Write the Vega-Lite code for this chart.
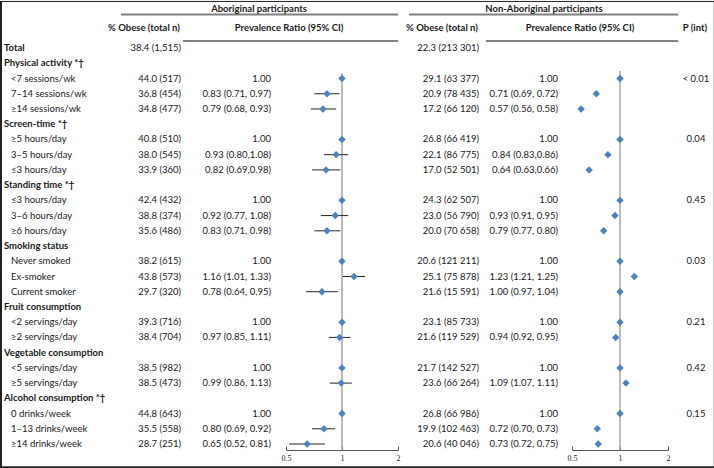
{
  "$schema": "https://vega.github.io/schema/vega-lite/v6.json",
  "padding": 0,
  "spacing": 0,
  "bounds": "flush",
  "background": "white",
  "config": {
    "view": {"stroke": null},
    "concat": {"spacing": 0},
    "text": {"font": "Lato", "fontSize": 9.5, "color": "#1a1a1a", "baseline": "middle"}
  },
  "data": {"values": [
    {"row": 0, "label": "Total", "kind": "total", "ab_n": "38.4 (1,515)", "ab_pr": "", "ab_est": null, "ab_lo": null, "ab_hi": null, "non_n": "22.3 (213 301)", "non_pr": "", "non_est": null, "non_lo": null, "non_hi": null, "p": ""},
    {"row": 1, "label": "Physical activity *†", "kind": "category", "ab_n": "", "ab_pr": "", "ab_est": null, "ab_lo": null, "ab_hi": null, "non_n": "", "non_pr": "", "non_est": null, "non_lo": null, "non_hi": null, "p": ""},
    {"row": 2, "label": "<7 sessions/wk", "kind": "item", "ab_n": "44.0 (517)", "ab_pr": "1.00", "ab_est": 1.0, "ab_lo": null, "ab_hi": null, "non_n": "29.1 (63 377)", "non_pr": "1.00", "non_est": 1.0, "non_lo": null, "non_hi": null, "p": "< 0.01"},
    {"row": 3, "label": "7–14 sessions/wk", "kind": "item", "ab_n": "36.8 (454)", "ab_pr": "0.83 (0.71, 0.97)", "ab_est": 0.83, "ab_lo": 0.71, "ab_hi": 0.97, "non_n": "20.9 (78 435)", "non_pr": "0.71 (0.69, 0.72)", "non_est": 0.71, "non_lo": 0.69, "non_hi": 0.72, "p": ""},
    {"row": 4, "label": "≥14 sessions/wk", "kind": "item", "ab_n": "34.8 (477)", "ab_pr": "0.79 (0.68, 0.93)", "ab_est": 0.79, "ab_lo": 0.68, "ab_hi": 0.93, "non_n": "17.2 (66 120)", "non_pr": "0.57 (0.56, 0.58)", "non_est": 0.57, "non_lo": 0.56, "non_hi": 0.58, "p": ""},
    {"row": 5, "label": "Screen-time *†", "kind": "category", "ab_n": "", "ab_pr": "", "ab_est": null, "ab_lo": null, "ab_hi": null, "non_n": "", "non_pr": "", "non_est": null, "non_lo": null, "non_hi": null, "p": ""},
    {"row": 6, "label": "≥5 hours/day", "kind": "item", "ab_n": "40.8 (510)", "ab_pr": "1.00", "ab_est": 1.0, "ab_lo": null, "ab_hi": null, "non_n": "26.8 (66 419)", "non_pr": "1.00", "non_est": 1.0, "non_lo": null, "non_hi": null, "p": "0.04"},
    {"row": 7, "label": "3–5 hours/day", "kind": "item", "ab_n": "38.0 (545)", "ab_pr": "0.93 (0.80,1.08)", "ab_est": 0.93, "ab_lo": 0.80, "ab_hi": 1.08, "non_n": "22.1 (86 775)", "non_pr": "0.84 (0.83,0.86)", "non_est": 0.84, "non_lo": 0.83, "non_hi": 0.86, "p": ""},
    {"row": 8, "label": "≤3 hours/day", "kind": "item", "ab_n": "33.9 (360)", "ab_pr": "0.82 (0.69,0.98)", "ab_est": 0.82, "ab_lo": 0.69, "ab_hi": 0.98, "non_n": "17.0 (52 501)", "non_pr": "0.64 (0.63,0.66)", "non_est": 0.64, "non_lo": 0.63, "non_hi": 0.66, "p": ""},
    {"row": 9, "label": "Standing time *†", "kind": "category", "ab_n": "", "ab_pr": "", "ab_est": null, "ab_lo": null, "ab_hi": null, "non_n": "", "non_pr": "", "non_est": null, "non_lo": null, "non_hi": null, "p": ""},
    {"row": 10, "label": "≤3 hours/day", "kind": "item", "ab_n": "42.4 (432)", "ab_pr": "1.00", "ab_est": 1.0, "ab_lo": null, "ab_hi": null, "non_n": "24.3 (62 507)", "non_pr": "1.00", "non_est": 1.0, "non_lo": null, "non_hi": null, "p": "0.45"},
    {"row": 11, "label": "3–6 hours/day", "kind": "item", "ab_n": "38.8 (374)", "ab_pr": "0.92 (0.77, 1.08)", "ab_est": 0.92, "ab_lo": 0.77, "ab_hi": 1.08, "non_n": "23.0 (56 790)", "non_pr": "0.93 (0.91, 0.95)", "non_est": 0.93, "non_lo": 0.91, "non_hi": 0.95, "p": ""},
    {"row": 12, "label": "≥6 hours/day", "kind": "item", "ab_n": "35.6 (486)", "ab_pr": "0.83 (0.71, 0.98)", "ab_est": 0.83, "ab_lo": 0.71, "ab_hi": 0.98, "non_n": "20.0 (70 658)", "non_pr": "0.79 (0.77, 0.80)", "non_est": 0.79, "non_lo": 0.77, "non_hi": 0.80, "p": ""},
    {"row": 13, "label": "Smoking status", "kind": "category", "ab_n": "", "ab_pr": "", "ab_est": null, "ab_lo": null, "ab_hi": null, "non_n": "", "non_pr": "", "non_est": null, "non_lo": null, "non_hi": null, "p": ""},
    {"row": 14, "label": "Never smoked", "kind": "item", "ab_n": "38.2 (615)", "ab_pr": "1.00", "ab_est": 1.0, "ab_lo": null, "ab_hi": null, "non_n": "20.6 (121 211)", "non_pr": "1.00", "non_est": 1.0, "non_lo": null, "non_hi": null, "p": "0.03"},
    {"row": 15, "label": "Ex-smoker", "kind": "item", "ab_n": "43.8 (573)", "ab_pr": "1.16 (1.01, 1.33)", "ab_est": 1.16, "ab_lo": 1.01, "ab_hi": 1.33, "non_n": "25.1 (75 878)", "non_pr": "1.23 (1.21, 1.25)", "non_est": 1.23, "non_lo": 1.21, "non_hi": 1.25, "p": ""},
    {"row": 16, "label": "Current smoker", "kind": "item", "ab_n": "29.7 (320)", "ab_pr": "0.78 (0.64, 0.95)", "ab_est": 0.78, "ab_lo": 0.64, "ab_hi": 0.95, "non_n": "21.6 (15 591)", "non_pr": "1.00 (0.97, 1.04)", "non_est": 1.0, "non_lo": 0.97, "non_hi": 1.04, "p": ""},
    {"row": 17, "label": "Fruit consumption", "kind": "category", "ab_n": "", "ab_pr": "", "ab_est": null, "ab_lo": null, "ab_hi": null, "non_n": "", "non_pr": "", "non_est": null, "non_lo": null, "non_hi": null, "p": ""},
    {"row": 18, "label": "<2 servings/day", "kind": "item", "ab_n": "39.3 (716)", "ab_pr": "1.00", "ab_est": 1.0, "ab_lo": null, "ab_hi": null, "non_n": "23.1 (85 733)", "non_pr": "1.00", "non_est": 1.0, "non_lo": null, "non_hi": null, "p": "0.21"},
    {"row": 19, "label": "≥2 servings/day", "kind": "item", "ab_n": "38.4 (704)", "ab_pr": "0.97 (0.85, 1.11)", "ab_est": 0.97, "ab_lo": 0.85, "ab_hi": 1.11, "non_n": "21.6 (119 529)", "non_pr": "0.94 (0.92, 0.95)", "non_est": 0.94, "non_lo": 0.92, "non_hi": 0.95, "p": ""},
    {"row": 20, "label": "Vegetable consumption", "kind": "category", "ab_n": "", "ab_pr": "", "ab_est": null, "ab_lo": null, "ab_hi": null, "non_n": "", "non_pr": "", "non_est": null, "non_lo": null, "non_hi": null, "p": ""},
    {"row": 21, "label": "<5 servings/day", "kind": "item", "ab_n": "38.5 (982)", "ab_pr": "1.00", "ab_est": 1.0, "ab_lo": null, "ab_hi": null, "non_n": "21.7 (142 527)", "non_pr": "1.00", "non_est": 1.0, "non_lo": null, "non_hi": null, "p": "0.42"},
    {"row": 22, "label": "≥5 servings/day", "kind": "item", "ab_n": "38.5 (473)", "ab_pr": "0.99 (0.86, 1.13)", "ab_est": 0.99, "ab_lo": 0.86, "ab_hi": 1.13, "non_n": "23.6 (66 264)", "non_pr": "1.09 (1.07, 1.11)", "non_est": 1.09, "non_lo": 1.07, "non_hi": 1.11, "p": ""},
    {"row": 23, "label": "Alcohol consumption *†", "kind": "category", "ab_n": "", "ab_pr": "", "ab_est": null, "ab_lo": null, "ab_hi": null, "non_n": "", "non_pr": "", "non_est": null, "non_lo": null, "non_hi": null, "p": ""},
    {"row": 24, "label": "0 drinks/week", "kind": "item", "ab_n": "44.8 (643)", "ab_pr": "1.00", "ab_est": 1.0, "ab_lo": null, "ab_hi": null, "non_n": "26.8 (66 986)", "non_pr": "1.00", "non_est": 1.0, "non_lo": null, "non_hi": null, "p": "0.15"},
    {"row": 25, "label": "1–13 drinks/week", "kind": "item", "ab_n": "35.5 (558)", "ab_pr": "0.80 (0.69, 0.92)", "ab_est": 0.80, "ab_lo": 0.69, "ab_hi": 0.92, "non_n": "19.9 (102 463)", "non_pr": "0.72 (0.70, 0.73)", "non_est": 0.72, "non_lo": 0.70, "non_hi": 0.73, "p": ""},
    {"row": 26, "label": "≥14 drinks/week", "kind": "item", "ab_n": "28.7 (251)", "ab_pr": "0.65 (0.52, 0.81)", "ab_est": 0.65, "ab_lo": 0.52, "ab_hi": 0.81, "non_n": "20.6 (40 046)", "non_pr": "0.73 (0.72, 0.75)", "non_est": 0.73, "non_lo": 0.72, "non_hi": 0.75, "p": ""}
  ]},
  "hconcat": [
    {
      "width": 120, "height": 468,
      "layer": [
        {"data": {"values": [{}]}, "mark": {"type": "rule", "color": "#222", "strokeWidth": 1}, "encoding": {"y": {"datum": -3.06, "type": "quantitative", "scale": {"domain": [-3.09, 27.64], "reverse": true, "nice": false, "zero": false}, "axis": null}}},
        {"data": {"values": [{}]}, "mark": {"type": "rule", "color": "#222", "strokeWidth": 2}, "encoding": {"y": {"datum": 27.52, "type": "quantitative", "scale": {"domain": [-3.09, 27.64], "reverse": true, "nice": false, "zero": false}, "axis": null}}},
        {"data": {"values": [{}]}, "mark": {"type": "rule", "color": "#222", "strokeWidth": 2}, "encoding": {"x": {"datum": 0, "type": "quantitative", "scale": {"domain": [0, 1], "nice": false, "zero": false}, "axis": null}}},
        {"transform": [{"filter": "datum.kind != 'item'"}], "mark": {"type": "text", "align": "left", "fontWeight": "bold"}, "encoding": {"x": {"datum": 0.025, "type": "quantitative", "scale": {"domain": [0, 1], "nice": false, "zero": false}, "axis": null}, "y": {"field": "row", "type": "quantitative", "scale": {"domain": [-3.09, 27.64], "reverse": true, "nice": false, "zero": false}, "axis": null}, "text": {"field": "label"}}},
        {"transform": [{"filter": "datum.kind == 'item'"}], "mark": {"type": "text", "align": "left"}, "encoding": {"x": {"datum": 0.083, "type": "quantitative", "scale": {"domain": [0, 1], "nice": false, "zero": false}, "axis": null}, "y": {"field": "row", "type": "quantitative", "scale": {"domain": [-3.09, 27.64], "reverse": true, "nice": false, "zero": false}, "axis": null}, "text": {"field": "label"}}}
      ]
    },
    {
      "width": 62, "height": 468,
      "layer": [
        {"data": {"values": [{}]}, "mark": {"type": "rule", "color": "#222", "strokeWidth": 1}, "encoding": {"y": {"datum": -3.06, "type": "quantitative", "scale": {"domain": [-3.09, 27.64], "reverse": true, "nice": false, "zero": false}, "axis": null}}},
        {"data": {"values": [{}]}, "mark": {"type": "rule", "color": "#222", "strokeWidth": 2}, "encoding": {"y": {"datum": 27.52, "type": "quantitative", "scale": {"domain": [-3.09, 27.64], "reverse": true, "nice": false, "zero": false}, "axis": null}}},
        {"data": {"values": [{}]}, "mark": {"type": "rule", "color": "#808080", "strokeWidth": 2}, "encoding": {"y": {"datum": -2.2, "type": "quantitative", "scale": {"domain": [-3.09, 27.64], "reverse": true, "nice": false, "zero": false}, "axis": null}}},
        {"data": {"values": [{}]}, "mark": {"type": "text", "align": "center", "fontWeight": "bold", "text": "% Obese (total n)"}, "encoding": {"x": {"datum": 0.371, "type": "quantitative", "scale": {"domain": [0, 1], "nice": false, "zero": false}, "axis": null}, "y": {"datum": -1.31, "type": "quantitative", "scale": {"domain": [-3.09, 27.64], "reverse": true, "nice": false, "zero": false}, "axis": null}}},
        {"transform": [{"filter": "datum.ab_n != ''"}], "mark": {"type": "text", "align": "right"}, "encoding": {"x": {"datum": 0.968, "type": "quantitative", "scale": {"domain": [0, 1], "nice": false, "zero": false}, "axis": null}, "y": {"field": "row", "type": "quantitative", "scale": {"domain": [-3.09, 27.64], "reverse": true, "nice": false, "zero": false}, "axis": null}, "text": {"field": "ab_n"}}}
      ]
    },
    {
      "width": 103, "height": 468,
      "layer": [
        {"data": {"values": [{}]}, "mark": {"type": "rule", "color": "#222", "strokeWidth": 1}, "encoding": {"y": {"datum": -3.06, "type": "quantitative", "scale": {"domain": [-3.09, 27.64], "reverse": true, "nice": false, "zero": false}, "axis": null}}},
        {"data": {"values": [{}]}, "mark": {"type": "rule", "color": "#222", "strokeWidth": 2}, "encoding": {"y": {"datum": 27.52, "type": "quantitative", "scale": {"domain": [-3.09, 27.64], "reverse": true, "nice": false, "zero": false}, "axis": null}}},
        {"data": {"values": [{}]}, "mark": {"type": "rule", "color": "#808080", "strokeWidth": 2}, "encoding": {"y": {"datum": -2.2, "type": "quantitative", "scale": {"domain": [-3.09, 27.64], "reverse": true, "nice": false, "zero": false}, "axis": null}}},
        {"data": {"values": [{}]}, "mark": {"type": "rule", "color": "#808080", "strokeWidth": 2}, "encoding": {"y": {"datum": -0.46, "type": "quantitative", "scale": {"domain": [-3.09, 27.64], "reverse": true, "nice": false, "zero": false}, "axis": null}}},
        {"data": {"values": [{}]}, "mark": {"type": "text", "align": "center", "fontWeight": "bold", "text": "Aboriginal participants"}, "encoding": {"x": {"datum": 0.738, "type": "quantitative", "scale": {"domain": [0, 1], "nice": false, "zero": false}, "axis": null}, "y": {"datum": -2.59, "type": "quantitative", "scale": {"domain": [-3.09, 27.64], "reverse": true, "nice": false, "zero": false}, "axis": null}}},
        {"data": {"values": [{}]}, "mark": {"type": "text", "align": "center", "fontWeight": "bold", "text": "Prevalence Ratio (95% CI)"}, "encoding": {"x": {"datum": 1.03, "type": "quantitative", "scale": {"domain": [0, 1], "nice": false, "zero": false}, "axis": null}, "y": {"datum": -1.31, "type": "quantitative", "scale": {"domain": [-3.09, 27.64], "reverse": true, "nice": false, "zero": false}, "axis": null}}},
        {"transform": [{"filter": "datum.ab_pr != ''"}], "mark": {"type": "text", "align": "right"}, "encoding": {"x": {"datum": 0.854, "type": "quantitative", "scale": {"domain": [0, 1], "nice": false, "zero": false}, "axis": null}, "y": {"field": "row", "type": "quantitative", "scale": {"domain": [-3.09, 27.64], "reverse": true, "nice": false, "zero": false}, "axis": null}, "text": {"field": "ab_pr"}}}
      ]
    },
    {
      "width": 112, "height": 468,
      "layer": [
        {"data": {"values": [{}]}, "mark": {"type": "rule", "color": "#222", "strokeWidth": 1}, "encoding": {"y": {"datum": -3.06, "type": "quantitative", "scale": {"domain": [-3.09, 27.64], "reverse": true, "nice": false, "zero": false}, "axis": null}}},
        {"data": {"values": [{}]}, "mark": {"type": "rule", "color": "#222", "strokeWidth": 2}, "encoding": {"y": {"datum": 27.52, "type": "quantitative", "scale": {"domain": [-3.09, 27.64], "reverse": true, "nice": false, "zero": false}, "axis": null}}},
        {"data": {"values": [{}]}, "mark": {"type": "rule", "color": "#808080", "strokeWidth": 2}, "encoding": {"y": {"datum": -2.2, "type": "quantitative", "scale": {"domain": [-3.09, 27.64], "reverse": true, "nice": false, "zero": false}, "axis": null}}},
        {"data": {"values": [{}]}, "mark": {"type": "rule", "color": "#808080", "strokeWidth": 2}, "encoding": {"y": {"datum": -0.46, "type": "quantitative", "scale": {"domain": [-3.09, 27.64], "reverse": true, "nice": false, "zero": false}, "axis": null}}},
        {"data": {"values": [{}]}, "mark": {"type": "rule", "color": "#a6a6a6", "strokeWidth": 1.5}, "encoding": {"x": {"datum": 1, "type": "quantitative", "scale": {"type": "log", "domain": [0.5, 2], "nice": false}}, "y": {"datum": 1.65, "type": "quantitative", "scale": {"domain": [-3.09, 27.64], "reverse": true, "nice": false, "zero": false}, "axis": null}, "y2": {"datum": 26.4}}},
        {"mark": {"type": "rule", "color": "#262626", "strokeWidth": 1}, "encoding": {"x": {"field": "ab_lo", "type": "quantitative", "scale": {"type": "log", "domain": [0.5, 2], "nice": false}}, "x2": {"field": "ab_hi"}, "y": {"field": "row", "type": "quantitative", "scale": {"domain": [-3.09, 27.64], "reverse": true, "nice": false, "zero": false}, "axis": null}}},
        {"mark": {"type": "point", "shape": "diamond", "filled": true, "size": 55, "color": "#4f81bd", "opacity": 1}, "encoding": {"x": {"field": "ab_est", "type": "quantitative", "scale": {"type": "log", "domain": [0.5, 2], "nice": false}, "axis": {"values": [0.5, 1, 2], "format": "~g", "title": null, "grid": false, "offset": -19, "tickSize": -4, "labelPadding": 8, "labelFont": "Liberation Serif", "labelFontSize": 8, "labelColor": "#222", "domainColor": "#555", "tickColor": "#555", "labelFlush": false, "labelBound": false}}, "y": {"field": "row", "type": "quantitative", "scale": {"domain": [-3.09, 27.64], "reverse": true, "nice": false, "zero": false}, "axis": null}}}
      ]
    },
    {
      "width": 83, "height": 468,
      "layer": [
        {"data": {"values": [{}]}, "mark": {"type": "rule", "color": "#222", "strokeWidth": 1}, "encoding": {"y": {"datum": -3.06, "type": "quantitative", "scale": {"domain": [-3.09, 27.64], "reverse": true, "nice": false, "zero": false}, "axis": null}}},
        {"data": {"values": [{}]}, "mark": {"type": "rule", "color": "#222", "strokeWidth": 2}, "encoding": {"y": {"datum": 27.52, "type": "quantitative", "scale": {"domain": [-3.09, 27.64], "reverse": true, "nice": false, "zero": false}, "axis": null}}},
        {"data": {"values": [{}]}, "mark": {"type": "rule", "color": "#808080", "strokeWidth": 2}, "encoding": {"x": {"datum": 0.133, "type": "quantitative", "scale": {"domain": [0, 1], "nice": false, "zero": false}, "axis": null}, "x2": {"datum": 1}, "y": {"datum": -2.2, "type": "quantitative", "scale": {"domain": [-3.09, 27.64], "reverse": true, "nice": false, "zero": false}, "axis": null}}},
        {"data": {"values": [{}]}, "mark": {"type": "text", "align": "center", "fontWeight": "bold", "text": "% Obese (total n)"}, "encoding": {"x": {"datum": 0.53, "type": "quantitative", "scale": {"domain": [0, 1], "nice": false, "zero": false}, "axis": null}, "y": {"datum": -1.31, "type": "quantitative", "scale": {"domain": [-3.09, 27.64], "reverse": true, "nice": false, "zero": false}, "axis": null}}},
        {"transform": [{"filter": "datum.non_n != ''"}], "mark": {"type": "text", "align": "right"}, "encoding": {"x": {"datum": 0.976, "type": "quantitative", "scale": {"domain": [0, 1], "nice": false, "zero": false}, "axis": null}, "y": {"field": "row", "type": "quantitative", "scale": {"domain": [-3.09, 27.64], "reverse": true, "nice": false, "zero": false}, "axis": null}, "text": {"field": "non_n"}}}
      ]
    },
    {
      "width": 91, "height": 468,
      "layer": [
        {"data": {"values": [{}]}, "mark": {"type": "rule", "color": "#222", "strokeWidth": 1}, "encoding": {"y": {"datum": -3.06, "type": "quantitative", "scale": {"domain": [-3.09, 27.64], "reverse": true, "nice": false, "zero": false}, "axis": null}}},
        {"data": {"values": [{}]}, "mark": {"type": "rule", "color": "#222", "strokeWidth": 2}, "encoding": {"y": {"datum": 27.52, "type": "quantitative", "scale": {"domain": [-3.09, 27.64], "reverse": true, "nice": false, "zero": false}, "axis": null}}},
        {"data": {"values": [{}]}, "mark": {"type": "rule", "color": "#808080", "strokeWidth": 2}, "encoding": {"y": {"datum": -2.2, "type": "quantitative", "scale": {"domain": [-3.09, 27.64], "reverse": true, "nice": false, "zero": false}, "axis": null}}},
        {"data": {"values": [{}]}, "mark": {"type": "rule", "color": "#808080", "strokeWidth": 2}, "encoding": {"x": {"datum": 0.055, "type": "quantitative", "scale": {"domain": [0, 1], "nice": false, "zero": false}, "axis": null}, "x2": {"datum": 1}, "y": {"datum": -0.46, "type": "quantitative", "scale": {"domain": [-3.09, 27.64], "reverse": true, "nice": false, "zero": false}, "axis": null}}},
        {"data": {"values": [{}]}, "mark": {"type": "text", "align": "center", "fontWeight": "bold", "text": "Non-Aboriginal participants"}, "encoding": {"x": {"datum": 0.692, "type": "quantitative", "scale": {"domain": [0, 1], "nice": false, "zero": false}, "axis": null}, "y": {"datum": -2.59, "type": "quantitative", "scale": {"domain": [-3.09, 27.64], "reverse": true, "nice": false, "zero": false}, "axis": null}}},
        {"data": {"values": [{}]}, "mark": {"type": "text", "align": "center", "fontWeight": "bold", "text": "Prevalence Ratio (95% CI)"}, "encoding": {"x": {"datum": 1.088, "type": "quantitative", "scale": {"domain": [0, 1], "nice": false, "zero": false}, "axis": null}, "y": {"datum": -1.31, "type": "quantitative", "scale": {"domain": [-3.09, 27.64], "reverse": true, "nice": false, "zero": false}, "axis": null}}},
        {"transform": [{"filter": "datum.non_pr != ''"}], "mark": {"type": "text", "align": "right"}, "encoding": {"x": {"datum": 0.846, "type": "quantitative", "scale": {"domain": [0, 1], "nice": false, "zero": false}, "axis": null}, "y": {"field": "row", "type": "quantitative", "scale": {"domain": [-3.09, 27.64], "reverse": true, "nice": false, "zero": false}, "axis": null}, "text": {"field": "non_pr"}}}
      ]
    },
    {
      "width": 96, "height": 468,
      "layer": [
        {"data": {"values": [{}]}, "mark": {"type": "rule", "color": "#222", "strokeWidth": 1}, "encoding": {"y": {"datum": -3.06, "type": "quantitative", "scale": {"domain": [-3.09, 27.64], "reverse": true, "nice": false, "zero": false}, "axis": null}}},
        {"data": {"values": [{}]}, "mark": {"type": "rule", "color": "#222", "strokeWidth": 2}, "encoding": {"y": {"datum": 27.52, "type": "quantitative", "scale": {"domain": [-3.09, 27.64], "reverse": true, "nice": false, "zero": false}, "axis": null}}},
        {"data": {"values": [{}]}, "mark": {"type": "rule", "color": "#808080", "strokeWidth": 2}, "encoding": {"y": {"datum": -2.2, "type": "quantitative", "scale": {"domain": [-3.09, 27.64], "reverse": true, "nice": false, "zero": false}, "axis": null}}},
        {"data": {"values": [{}]}, "mark": {"type": "rule", "color": "#808080", "strokeWidth": 2}, "encoding": {"y": {"datum": -0.46, "type": "quantitative", "scale": {"domain": [-3.09, 27.64], "reverse": true, "nice": false, "zero": false}, "axis": null}}},
        {"data": {"values": [{}]}, "mark": {"type": "rule", "color": "#a6a6a6", "strokeWidth": 1.5}, "encoding": {"x": {"datum": 1, "type": "quantitative", "scale": {"type": "log", "domain": [0.5, 2], "nice": false}}, "y": {"datum": 1.5, "type": "quantitative", "scale": {"domain": [-3.09, 27.64], "reverse": true, "nice": false, "zero": false}, "axis": null}, "y2": {"datum": 26.4}}},
        {"mark": {"type": "rule", "color": "#262626", "strokeWidth": 1}, "encoding": {"x": {"field": "non_lo", "type": "quantitative", "scale": {"type": "log", "domain": [0.5, 2], "nice": false}}, "x2": {"field": "non_hi"}, "y": {"field": "row", "type": "quantitative", "scale": {"domain": [-3.09, 27.64], "reverse": true, "nice": false, "zero": false}, "axis": null}}},
        {"mark": {"type": "point", "shape": "diamond", "filled": true, "size": 55, "color": "#4f81bd", "opacity": 1}, "encoding": {"x": {"field": "non_est", "type": "quantitative", "scale": {"type": "log", "domain": [0.5, 2], "nice": false}, "axis": {"values": [0.5, 1, 2], "format": "~g", "title": null, "grid": false, "offset": -19, "tickSize": -4, "labelPadding": 8, "labelFont": "Liberation Serif", "labelFontSize": 8, "labelColor": "#222", "domainColor": "#555", "tickColor": "#555", "labelFlush": false, "labelBound": false}}, "y": {"field": "row", "type": "quantitative", "scale": {"domain": [-3.09, 27.64], "reverse": true, "nice": false, "zero": false}, "axis": null}}}
      ]
    },
    {
      "width": 47, "height": 468,
      "layer": [
        {"data": {"values": [{}]}, "mark": {"type": "rule", "color": "#222", "strokeWidth": 1}, "encoding": {"y": {"datum": -3.06, "type": "quantitative", "scale": {"domain": [-3.09, 27.64], "reverse": true, "nice": false, "zero": false}, "axis": null}}},
        {"data": {"values": [{}]}, "mark": {"type": "rule", "color": "#222", "strokeWidth": 2}, "encoding": {"y": {"datum": 27.52, "type": "quantitative", "scale": {"domain": [-3.09, 27.64], "reverse": true, "nice": false, "zero": false}, "axis": null}}},
        {"data": {"values": [{}]}, "mark": {"type": "rule", "color": "#222", "strokeWidth": 1}, "encoding": {"x": {"datum": 0.985, "type": "quantitative", "scale": {"domain": [0, 1], "nice": false, "zero": false}, "axis": null}}},
        {"data": {"values": [{}]}, "mark": {"type": "rule", "color": "#808080", "strokeWidth": 2}, "encoding": {"x": {"datum": 0, "type": "quantitative", "scale": {"domain": [0, 1], "nice": false, "zero": false}, "axis": null}, "x2": {"datum": 0.213}, "y": {"datum": -2.2, "type": "quantitative", "scale": {"domain": [-3.09, 27.64], "reverse": true, "nice": false, "zero": false}, "axis": null}}},
        {"data": {"values": [{}]}, "mark": {"type": "rule", "color": "#808080", "strokeWidth": 2}, "encoding": {"x": {"datum": 0, "type": "quantitative", "scale": {"domain": [0, 1], "nice": false, "zero": false}, "axis": null}, "x2": {"datum": 0.213}, "y": {"datum": -0.46, "type": "quantitative", "scale": {"domain": [-3.09, 27.64], "reverse": true, "nice": false, "zero": false}, "axis": null}}},
        {"data": {"values": [{}]}, "mark": {"type": "text", "align": "center", "fontWeight": "bold", "text": "P (int)"}, "encoding": {"x": {"datum": 0.574, "type": "quantitative", "scale": {"domain": [0, 1], "nice": false, "zero": false}, "axis": null}, "y": {"datum": -1.31, "type": "quantitative", "scale": {"domain": [-3.09, 27.64], "reverse": true, "nice": false, "zero": false}, "axis": null}}},
        {"transform": [{"filter": "datum.p != ''"}], "mark": {"type": "text", "align": "center"}, "encoding": {"x": {"datum": 0.596, "type": "quantitative", "scale": {"domain": [0, 1], "nice": false, "zero": false}, "axis": null}, "y": {"field": "row", "type": "quantitative", "scale": {"domain": [-3.09, 27.64], "reverse": true, "nice": false, "zero": false}, "axis": null}, "text": {"field": "p"}}}
      ]
    }
  ]
}
